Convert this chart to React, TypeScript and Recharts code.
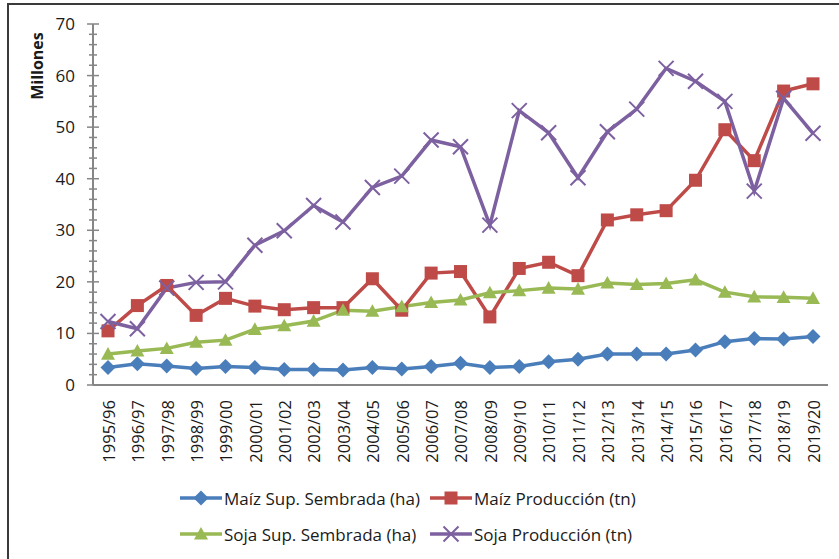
import React from 'react';
import { LineChart, Line, XAxis, YAxis } from 'recharts';

const categories = [
  '1995/96', '1996/97', '1997/98', '1998/99', '1999/00', '2000/01', '2001/02',
  '2002/03', '2003/04', '2004/05', '2005/06', '2006/07', '2007/08', '2008/09',
  '2009/10', '2010/11', '2011/12', '2012/13', '2013/14', '2014/15', '2015/16',
  '2016/17', '2017/18', '2018/19', '2019/20',
];

const maizSup = [3.4, 4.1, 3.7, 3.2, 3.6, 3.4, 3.0, 3.0, 2.9, 3.4, 3.1, 3.6, 4.2, 3.4, 3.6, 4.5, 5.0, 6.0, 6.0, 6.0, 6.8, 8.4, 9.0, 8.9, 9.4];
const maizProd = [10.5, 15.4, 19.3, 13.5, 16.8, 15.3, 14.6, 15.0, 15.0, 20.6, 14.5, 21.7, 22.0, 13.2, 22.6, 23.8, 21.2, 32.0, 33.0, 33.8, 39.7, 49.5, 43.5, 57.0, 58.4];
const sojaSup = [6.0, 6.6, 7.1, 8.3, 8.7, 10.8, 11.5, 12.4, 14.5, 14.3, 15.2, 16.0, 16.5, 17.9, 18.3, 18.8, 18.6, 19.8, 19.5, 19.7, 20.4, 18.0, 17.1, 17.0, 16.8];
const sojaProd = [12.3, 10.9, 18.8, 19.9, 20.0, 27.1, 29.9, 34.8, 31.6, 38.3, 40.5, 47.5, 46.2, 31.0, 53.2, 48.9, 40.2, 49.1, 53.5, 61.4, 58.9, 55.0, 37.6, 55.6, 48.8];

const yMajorTicks = [0, 10, 20, 30, 40, 50, 60, 70];
const yAllTicks = Array.from({ length: 36 }, (_, i) => i * 2);

const BLUE = '#4A7EBB';
const RED = '#BE4B48';
const GREEN = '#98B954';
const PURPLE = '#7D60A0';
const AXIS = '#868686';
const FONT = '"Open Sans", sans-serif';

const data = categories.map((cat, i) => ({
  cat,
  maizSup: maizSup[i],
  maizProd: maizProd[i],
  sojaSup: sojaSup[i],
  sojaProd: sojaProd[i],
}));

// marker shapes, drawn around (cx, cy)
function Marker({ kind, cx, cy, color }: { kind: string; cx: number; cy: number; color: string }) {
  if (kind === 'diamond') {
    const r = 7.5;
    return <path d={`M${cx},${cy - r}L${cx + r},${cy}L${cx},${cy + r}L${cx - r},${cy}Z`} fill={color} />;
  }
  if (kind === 'square') {
    const s = 6.5;
    return <rect x={cx - s} y={cy - s} width={s * 2} height={s * 2} fill={color} />;
  }
  if (kind === 'triangle') {
    const r = 7;
    return <path d={`M${cx},${cy - r}L${cx + r},${cy + r * 0.8}L${cx - r},${cy + r * 0.8}Z`} fill={color} />;
  }
  const r = 7.5;
  return (
    <path
      d={`M${cx - r},${cy - r}L${cx + r},${cy + r}M${cx + r},${cy - r}L${cx - r},${cy + r}`}
      stroke={color}
      strokeWidth={2}
      fill="none"
    />
  );
}

const makeDot = (kind: string, color: string) => (props: any) => {
  const { cx, cy, index } = props;
  if (cx == null || cy == null) return <g key={index} />;
  return (
    <g key={index}>
      <Marker kind={kind} cx={cx} cy={cy} color={color} />
    </g>
  );
};

function YTick({ x, y, payload }: any) {
  const v = payload.value;
  const major = yMajorTicks.includes(v);
  const len = major ? 6 : 4;
  return (
    <g>
      <line x1={x - len} x2={x + len} y1={y} y2={y} stroke={AXIS} strokeWidth={1.5} />
      {major && (
        <text x={x - 18} y={y} dy="0.35em" textAnchor="end" fontSize={17} fontFamily={FONT} fill="#1a1a1a">
          {v}
        </text>
      )}
    </g>
  );
}

function XTick({ x, y, payload }: any) {
  return (
    <text
      transform={`translate(${x + 1},${y + 15}) rotate(-90)`}
      dy="0.35em"
      textAnchor="end"
      fontSize={16.5}
      fontFamily={FONT}
      fill="#1a1a1a"
    >
      {payload.value}
    </text>
  );
}

const legendItems = [
  { label: 'Maíz Sup. Sembrada (ha)', kind: 'diamond', color: BLUE },
  { label: 'Maíz Producción (tn)', kind: 'square', color: RED },
  { label: 'Soja Sup. Sembrada (ha)', kind: 'triangle', color: GREEN },
  { label: 'Soja Producción (tn)', kind: 'x', color: PURPLE },
];

function LegendIcon({ kind, color }: { kind: string; color: string }) {
  return (
    <svg width={42} height={20} style={{ display: 'block' }}>
      <line x1={0} x2={42} y1={10} y2={10} stroke={color} strokeWidth={3.5} />
      <Marker kind={kind} cx={21} cy={10} color={color} />
    </svg>
  );
}

export default function App() {
  return (
    <div style={{ position: 'absolute', left: 0, top: 0, width: 839, height: 559, overflow: 'hidden', background: '#fff' }}>
      <div
        style={{
          position: 'absolute',
          left: 7,
          top: 3,
          width: 900,
          height: 700,
          borderTop: '2px solid #3a3a3a',
          borderLeft: '2px solid #3a3a3a',
        }}
      />
      <div style={{ position: 'absolute', left: 0, top: 0 }}>
        <LineChart width={839} height={559} data={data} margin={{ top: 24, right: 11, left: 0, bottom: 0 }}>
          <XAxis
            dataKey="cat"
            interval={0}
            height={174}
            tickSize={0}
            tickMargin={0}
            padding={{ left: 15, right: 15 }}
            tick={<XTick />}
            axisLine={{ stroke: AXIS, strokeWidth: 2 }}
          />
          <YAxis
            type="number"
            domain={[0, 70]}
            ticks={yAllTicks}
            interval={0}
            width={93}
            tickSize={0}
            tickMargin={0}
            tick={<YTick />}
            axisLine={{ stroke: AXIS, strokeWidth: 2 }}
            label={{
              value: 'Millones',
              angle: -90,
              position: 'insideTopLeft',
              offset: 0,
              content: () => (
                <text
                  transform="translate(37,66) rotate(-90)"
                  textAnchor="middle"
                  dy="0.35em"
                  fontSize={16}
                  fontWeight="bold"
                  fontFamily={FONT}
                  fill="#1a1a1a"
                >
                  Millones
                </text>
              ),
            }}
          />
          <Line dataKey="maizSup" stroke={BLUE} strokeWidth={3.5} dot={makeDot('diamond', BLUE)} isAnimationActive={false} />
          <Line dataKey="maizProd" stroke={RED} strokeWidth={3.5} dot={makeDot('square', RED)} isAnimationActive={false} />
          <Line dataKey="sojaSup" stroke={GREEN} strokeWidth={3.5} dot={makeDot('triangle', GREEN)} isAnimationActive={false} />
          <Line dataKey="sojaProd" stroke={PURPLE} strokeWidth={3.5} dot={makeDot('x', PURPLE)} isAnimationActive={false} />
        </LineChart>
      </div>
      <div
        style={{
          position: 'absolute',
          left: 180,
          top: 486,
          display: 'grid',
          gridTemplateColumns: '250px 250px',
          rowGap: 12,
          fontFamily: FONT,
          fontSize: 17,
          color: '#1a1a1a',
        }}
      >
        {legendItems.map((it) => (
          <div key={it.label} style={{ display: 'flex', alignItems: 'center', height: 24 }}>
            <LegendIcon kind={it.kind} color={it.color} />
            <span style={{ marginLeft: 2, whiteSpace: 'nowrap' }}>{it.label}</span>
          </div>
        ))}
      </div>
    </div>
  );
}
